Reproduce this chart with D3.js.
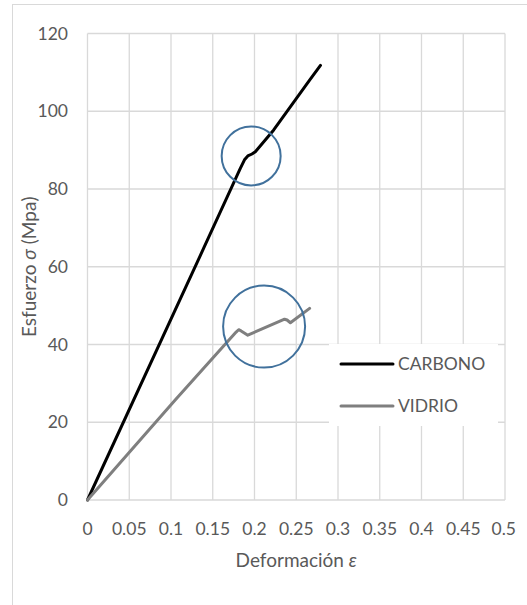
<!DOCTYPE html>
<html>
<head>
<meta charset="utf-8">
<script src="https://cdn.jsdelivr.net/npm/d3@7"></script>
<style>
  body { margin: 0; background: #fff; }
  svg text { font-family: Lato, "Open Sans", sans-serif; fill: #595959; }
</style>
</head>
<body>
<svg id="chart" width="527" height="605"></svg>
<script>
// data
const xTicks = [0, 0.05, 0.1, 0.15, 0.2, 0.25, 0.3, 0.35, 0.4, 0.45, 0.5];
const yTicks = [0, 20, 40, 60, 80, 100, 120];

const carbonoEps   = [0, 0.139, 0.183, 0.188, 0.192, 0.197, 0.201, 0.223, 0.266, 0.279];
const carbonoSigma = [0, 64.7, 85.3, 87.5, 88.5, 89.0, 89.6, 95.2, 108.0, 111.8];

const vidrioEps   = [0, 0.105, 0.178, 0.181, 0.184, 0.192, 0.236, 0.239, 0.243, 0.266];
const vidrioSigma = [0, 25.7, 43.2, 43.8, 43.5, 42.4, 46.5, 46.3, 45.6, 49.3];

// highlight circles (centre in data units, radius in px)
const markEps   = [0.196, 0.2115];
const markSigma = [88.5, 44.6];
const markR     = [29.5, 41];

const seriesNames = ["CARBONO", "VIDRIO"];
const seriesColors = ["#000000", "#7f7f7f"];

const W = 527, H = 605;
const plot = { left: 87.5, right: 505, top: 33.5, bottom: 500 };

const svg = d3.select("#chart");

// outer chart border (runs off the right/bottom of the window)
svg.append("rect")
    .attr("x", 12.5).attr("y", 4.5)
    .attr("width", 600).attr("height", 700)
    .attr("fill", "#fff")
    .attr("stroke", "#d9d9d9");

const x = d3.scaleLinear().domain([0, 0.5]).range([plot.left, plot.right]);
const y = d3.scaleLinear().domain([0, 120]).range([plot.bottom, plot.top]);

// grid
const grid = svg.append("g").attr("stroke", "#d9d9d9").attr("stroke-width", 1.3);
grid.selectAll("line.v").data(xTicks).enter().append("line")
    .attr("x1", d => x(d)).attr("x2", d => x(d))
    .attr("y1", plot.top).attr("y2", plot.bottom);
grid.selectAll("line.h").data(yTicks).enter().append("line")
    .attr("y1", d => y(d)).attr("y2", d => y(d))
    .attr("x1", plot.left).attr("x2", plot.right);

// tick labels
svg.append("g").selectAll("text").data(yTicks).enter().append("text")
    .attr("x", 68).attr("y", d => y(d)).attr("dy", "0.35em")
    .attr("text-anchor", "end").attr("font-size", 17.5)
    .text(d => d);

svg.append("g").selectAll("text").data(xTicks).enter().append("text")
    .attr("x", d => x(d)).attr("y", 535)
    .attr("text-anchor", "middle").attr("font-size", 17.5)
    .text(d => d)
    .each(function () {
        // keep the last label inside the chart area
        const w = this.getComputedTextLength();
        const cx = +this.getAttribute("x");
        if (cx + w / 2 > 516) this.setAttribute("x", 516 - w / 2);
    });

// axis titles
const xt = svg.append("text")
    .attr("x", (plot.left + plot.right) / 2).attr("y", 567)
    .attr("text-anchor", "middle").attr("font-size", 19);
xt.append("tspan").text("Deformación ");
xt.append("tspan").attr("font-style", "italic").text("ε");

const yt = svg.append("text")
    .attr("transform", `translate(36,${(plot.top + plot.bottom) / 2}) rotate(-90)`)
    .attr("text-anchor", "middle").attr("font-size", 19);
yt.append("tspan").text("Esfuerzo ");
yt.append("tspan").attr("font-style", "italic").text("σ");
yt.append("tspan").text(" (Mpa)");

// lines
const line = d3.line()
    .x(d => x(d[0]))
    .y(d => y(d[1]));

const series = [
    d3.zip(carbonoEps, carbonoSigma),
    d3.zip(vidrioEps, vidrioSigma)
];

svg.append("g").attr("fill", "none")
    .selectAll("path").data(series).enter().append("path")
    .attr("d", line)
    .attr("stroke", (d, i) => seriesColors[i])
    .attr("stroke-width", 3)
    .attr("stroke-linejoin", "round")
    .attr("stroke-linecap", "round");

// legend
const lg = svg.append("g");
lg.append("rect")
    .attr("x", 329).attr("y", 344).attr("width", 169).attr("height", 82)
    .attr("fill", "#fff");
seriesNames.forEach((name, i) => {
    const ly = 364 + i * 42;
    lg.append("line")
        .attr("x1", 341).attr("x2", 393).attr("y1", ly).attr("y2", ly)
        .attr("stroke", seriesColors[i]).attr("stroke-width", 3)
        .attr("stroke-linecap", "round");
    lg.append("text")
        .attr("x", 398).attr("y", ly).attr("dy", "0.35em")
        .attr("font-size", 17.5)
        .text(name);
});

// highlight circles
svg.append("g").selectAll("circle").data(d3.range(markEps.length)).enter().append("circle")
    .attr("cx", i => x(markEps[i]))
    .attr("cy", i => y(markSigma[i]))
    .attr("r", i => markR[i])
    .attr("fill", "none")
    .attr("stroke", "#41719c")
    .attr("stroke-width", 2);
</script>
</body>
</html>
